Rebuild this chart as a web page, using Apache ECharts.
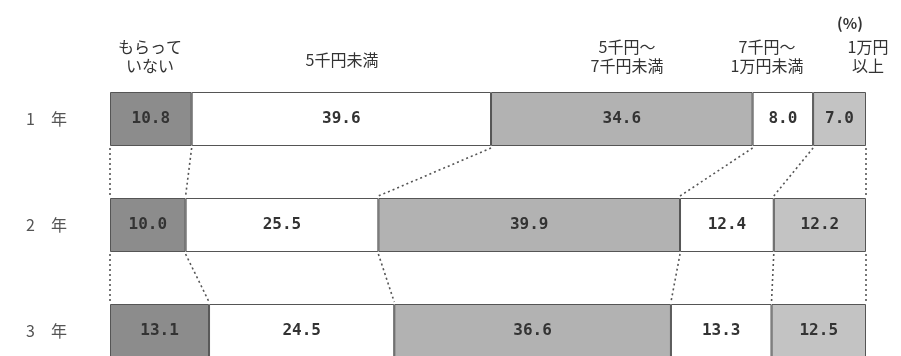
<!DOCTYPE html>
<html><head><meta charset="utf-8">
<script src="https://cdn.jsdelivr.net/npm/echarts@6/dist/echarts.min.js"></script>
<style>html,body{margin:0;padding:0;background:#fff}#c{width:901px;height:356px}</style>
</head><body><div id="c"></div>
<script>
var rows = ['1　年', '2　年', '3　年'];
var segNames = ['もらって\nいない', '5千円未満', '5千円～\n7千円未満', '7千円～\n1万円未満', '1万円\n以上'];
var s1 = [10.8, 10.0, 13.1];
var s2 = [39.6, 25.5, 24.5];
var s3 = [34.6, 39.9, 36.6];
var s4 = [8.0, 12.4, 13.3];
var s5 = [7.0, 12.2, 12.5];
var unitLabel = '(%)';

var segs = [s1, s2, s3, s4, s5];
var colors = ['#8c8c8c', '#ffffff', '#b2b2b2', '#ffffff', '#c3c3c3'];
var BAR = 54;

var series = segs.map(function (d, i) {
  return {
    type: 'bar', stack: 'total', name: segNames[i], data: d, barWidth: BAR,
    itemStyle: { color: colors[i], borderColor: '#555', borderWidth: 1 },
    label: { show: true, position: 'inside', color: '#333', fontSize: 16, fontWeight: 'bold',
      fontFamily: 'DejaVu Sans Mono', formatter: function (p) { return p.value.toFixed(1); } },
    silent: true
  };
});

var cum = rows.map(function (_, r) {
  var out = [0], s = 0;
  segs.forEach(function (d) { s += d[r]; out.push(s); });
  out[out.length - 1] = 100;
  return out;
});
var conn = [];
for (var r = 0; r < rows.length - 1; r++) {
  for (var k = 0; k < cum[r].length; k++) conn.push([cum[r][k], r, cum[r + 1][k]]);
}
series.push({
  type: 'custom', silent: true, data: conn,
  renderItem: function (params, api) {
    var a = api.coord([api.value(0), api.value(1)]);
    var b = api.coord([api.value(2), api.value(1) + 1]);
    return { type: 'line', shape: { x1: a[0], y1: a[1] + BAR / 2 + 2, x2: b[0], y2: b[1] - BAR / 2 - 2 },
      style: { stroke: '#555', lineWidth: 1.6, lineDash: [2, 3] } };
  }
});

var chart = echarts.init(document.getElementById('c'));
var headerCenters = [150, 342, 627, 767, 868];
var headerTop = [37, 50, 37, 37, 37];
var graphics = segNames.map(function (n, i) {
  return { type: 'text', x: headerCenters[i], y: headerTop[i],
    style: { text: n, fill: '#333', font: '16px "Noto Sans CJK JP"', textAlign: 'center', lineHeight: 19 } };
});
graphics.push({ type: 'text', x: 850, y: 16, style: { text: unitLabel, fill: '#333', font: 'bold 15px "Noto Sans CJK JP"', textAlign: 'center' } });

chart.setOption({
  animation: false,
  grid: { left: 110, width: 756, top: 66, height: 318, outerBoundsMode: 'none', containLabel: false },
  xAxis: { type: 'value', min: 0, max: 100, show: false },
  yAxis: { type: 'category', data: rows, inverse: true,
    axisLine: { show: false }, axisTick: { show: false }, splitLine: { show: false },
    axisLabel: { margin: 43, color: '#555', fontSize: 16, fontFamily: 'Noto Sans CJK JP' } },
  graphic: graphics,
  series: series
});
</script></body></html>
